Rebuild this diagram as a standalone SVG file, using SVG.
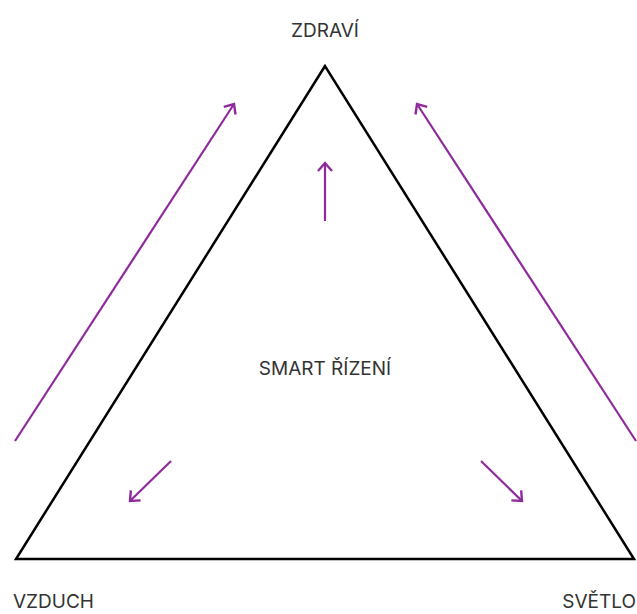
<svg xmlns="http://www.w3.org/2000/svg" width="637" height="614" viewBox="0 0 637 614">
<style>
.lbl{font-family:"Inter","Open Sans","Liberation Sans",sans-serif;font-size:19px;fill:#333;}
.arr{stroke:#8e2a9b;stroke-width:2.2;fill:none;marker-end:url(#ah);}
</style>
<defs>
<marker id="ah" viewBox="0 0 20 20" refX="10" refY="10" markerWidth="20" markerHeight="20" markerUnits="userSpaceOnUse" orient="auto">
<polyline points="2,3 10,10 2,17" fill="none" stroke="#8e2a9b" stroke-width="2.4"/>
</marker>
</defs>
<rect width="637" height="614" fill="#fff"/>
<g id="triangle">
<polygon points="325,66 16,559 634,559" fill="none" stroke="#000" stroke-width="2.5" stroke-linejoin="miter"/>
</g>
<g id="zdravi"><text class="lbl" x="325" y="37" text-anchor="middle">ZDRAVÍ</text></g>
<g id="smart"><text class="lbl" x="325" y="375" text-anchor="middle">SMART ŘÍZENÍ</text></g>
<g id="vzduch"><text class="lbl" x="13" y="608">VZDUCH</text></g>
<g id="svetlo"><text class="lbl" x="636" y="608" text-anchor="end">SVĚTLO</text></g>
<g id="connectors">
<line class="arr" x1="15" y1="441" x2="234" y2="104"/>
<line class="arr" x1="636" y1="441" x2="417" y2="104"/>
<line class="arr" x1="325" y1="221" x2="325" y2="163"/>
<line class="arr" x1="171" y1="461" x2="130" y2="501"/>
<line class="arr" x1="481" y1="461" x2="522" y2="501"/>
</g>
</svg>
